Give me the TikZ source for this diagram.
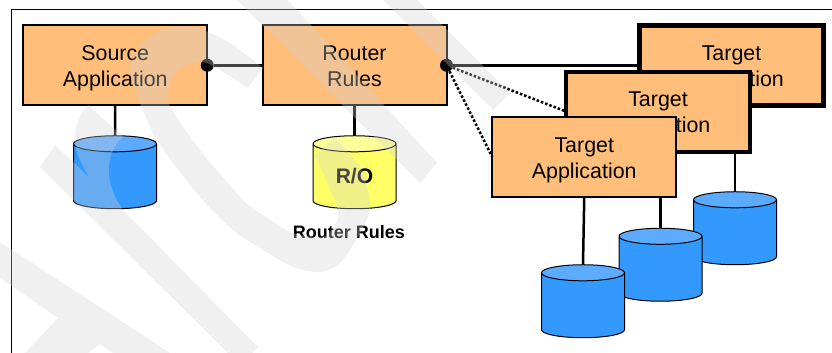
\documentclass[tikz,border=0pt]{standalone}
\usepackage{fontspec}
\setmainfont{Liberation Sans}
\usetikzlibrary{shapes.geometric}
\definecolor{boxorange}{HTML}{FFBE7A}
\definecolor{dbblue}{HTML}{3399FF}
\definecolor{dblid}{HTML}{5CABFF}
\definecolor{dbyellow}{HTML}{FFFF66}
\definecolor{yellowlid}{HTML}{FFFF99}
\definecolor{wmgray}{RGB}{210,210,210}
\tikzset{
  appbox/.style={draw,fill=boxorange,line width=2pt,minimum width=184pt,minimum height=80pt,
    inner sep=0pt,outer sep=0pt,align=center,text height=47pt,text depth=5pt,font=\fontsize{21.4}{26}\selectfont},
  db/.style={draw,shape=cylinder,shape border rotate=90,shape aspect=0.43,cylinder uses custom fill,
    cylinder body fill=dbblue,cylinder end fill=dblid,line width=1pt,minimum width=83pt,
    minimum height=73pt,inner sep=0pt,outer sep=0pt,font=\fontsize{21}{25}\selectfont\bfseries},
  rodb/.style={db,cylinder body fill=dbyellow,cylinder end fill=yellowlid},
  hub/.style={circle,fill=black,minimum size=13pt,inner sep=0pt},
  link/.style={line width=2.5pt},
  wmark/.style={fill=wmgray}
}
\begin{document}
\begin{tikzpicture}[x=1pt,y=-1pt]
  \useasboundingbox (0,0) rectangle (832,353);
  \draw[line width=1pt] (11.5,353) -- (11.5,9.5) -- (832,9.5);
  % stores
  \draw
    (115,176.5) node[db] (sourcedb){\phantom{R/O}}
    (354.5,176.5) node[rodb] (routerdb){R/O}
    (735,232.5) node[db] (targetdba){\phantom{R/O}}
    (660.5,269) node[db] (targetdbb){\phantom{R/O}}
    (583,305.5) node[db] (targetdbc){\phantom{R/O}};
  \node[font=\fontsize{18}{22}\selectfont\bfseries] (routerlabel) at (349,232) {Router Rules};
  % applications
  \draw
    (115.25,65.25) node[appbox] (source){Source\\Application}
    (354.5,65.25) node[appbox] (router){Router\\Rules}
    (731.5,65.25) node[appbox,line width=5pt] (targeta){Target\\Application}
    (658,111.5) node[appbox,line width=4pt] (targetb){Target\\Application}
    (584.25,157) node[appbox] (targetc){Target\\Application};
  \node[hub] (sourcehub) at (source.east) {};
  \node[hub] (routerhub) at (router.east) {};
  \begin{scope}[link]
    \draw[line width=3pt] (sourcehub) to (router.west);
    \draw[line width=3pt] (routerhub) to (targeta.west);
    \draw[dotted] (routerhub) to (targetb.west);
    \draw[dotted] (routerhub) to (targetc.west);
    \draw (source.south) to (sourcedb.top);
    \draw (router.south) to (routerdb.top);
    \draw (targetb.south -| targetdba.top) to (targetdba.top);
    \draw (targetc.south -| targetdbb.top) to (targetdbb.top);
    \draw (targetc.south) to (targetdbc.top);
  \end{scope}
  % watermark
  \begin{scope}[transparency group,opacity=0.33]
    \clip (0,0) rectangle (832,353);
    \fill[wmark] (237,0) -- (288,0) -- (437,163) -- (420,183) -- cycle;
    \fill[wmark] (383,0) -- (417,0) -- (510,93) -- (493,110) -- cycle;
    \fill[wmark] plot[smooth] coordinates {(263,68) (230,43) (197,28) (167,28) (143,43) (130,67) (135,90)
        (157,140) (200,197) (233,230) (260,248) (293,267) (320,272) (340,263) (360,233) (370,207) (362,170) (335,138)}
      -- plot[smooth] coordinates {(315,155) (338,210) (333,227) (323,237) (293,233) (260,213) (243,200)
        (200,150) (172,110) (168,93) (173,77) (187,65) (207,63) (248,88)} -- cycle;
    \fill[wmark] (40,167) -- (55,145) -- (90,178)
      .. controls (72,150) and (68,130) .. (88,105) -- (123,137)
      .. controls (103,155) and (105,185) .. (123,210) -- (258,347) -- (240,365) -- cycle;
    \fill[wmark] (0,242) -- (170,353) -- (113,353) -- (100,344) -- (88,353) -- (25,353) -- (58,318) -- (0,278) -- cycle;
  \end{scope}
\end{tikzpicture}
\end{document}
